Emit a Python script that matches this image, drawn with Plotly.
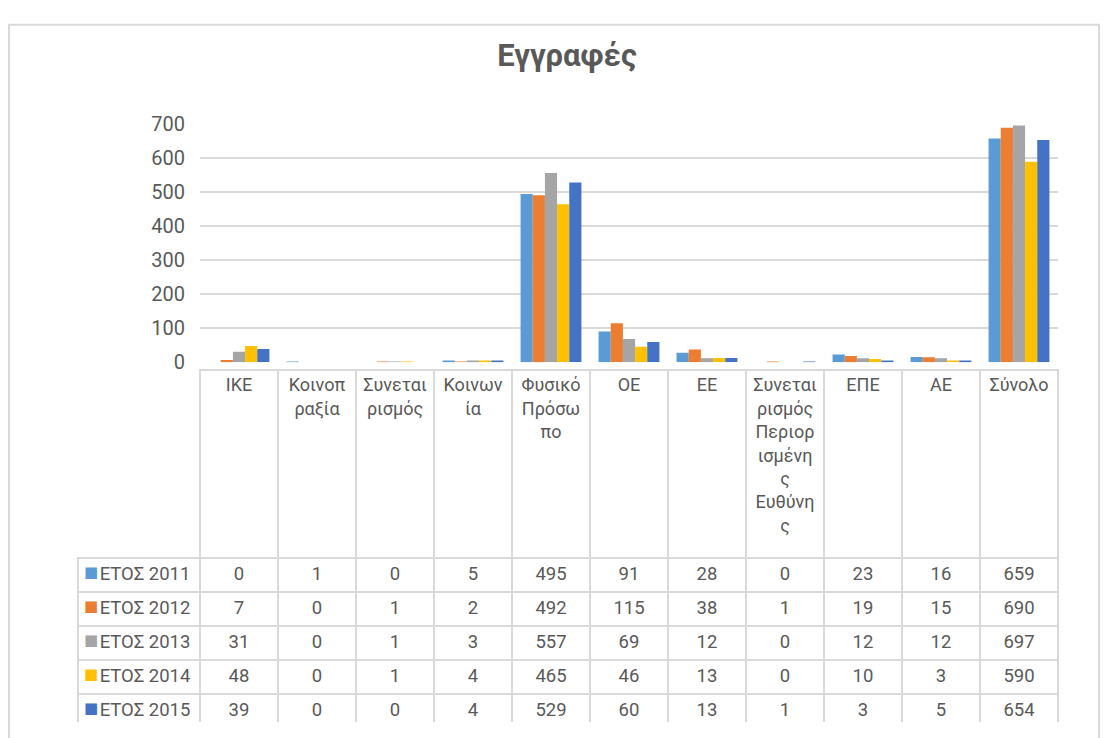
import plotly.graph_objects as go

# categories (full names) and the wrapped labels shown above the data table
categories = ["ΙΚΕ", "Κοινοπραξία", "Συνεταιρισμός", "Κοινωνία", "Φυσικό Πρόσωπο",
              "ΟΕ", "ΕΕ", "Συνεταιρισμός Περιορισμένης Ευθύνης", "ΕΠΕ", "ΑΕ", "Σύνολο"]
header_labels = ["ΙΚΕ", "Κοινοπ<br>ραξία", "Συνεται<br>ρισμός", "Κοινων<br>ία",
                 "Φυσικό<br>Πρόσω<br>πο", "ΟΕ", "ΕΕ",
                 "Συνεται<br>ρισμός<br>Περιορ<br>ισμένη<br>ς<br>Ευθύνη<br>ς",
                 "ΕΠΕ", "ΑΕ", "Σύνολο"]

series_names = ["ΕΤΟΣ 2011", "ΕΤΟΣ 2012", "ΕΤΟΣ 2013", "ΕΤΟΣ 2014", "ΕΤΟΣ 2015"]
y2011 = [0, 1, 0, 5, 495, 91, 28, 0, 23, 16, 659]
y2012 = [7, 0, 1, 2, 492, 115, 38, 1, 19, 15, 690]
y2013 = [31, 0, 1, 3, 557, 69, 12, 0, 12, 12, 697]
y2014 = [48, 0, 1, 4, 465, 46, 13, 0, 10, 3, 590]
y2015 = [39, 0, 0, 4, 529, 60, 13, 1, 3, 5, 654]
series_values = [y2011, y2012, y2013, y2014, y2015]
colors = ["#5B9BD5", "#ED7D31", "#A5A5A5", "#FFC000", "#4472C4"]

# page body has an 8px margin, so the figure is a bit smaller than the window
W, H = 1100, 730
OFF = 8
FONT = "Roboto"
TXT = "#595959"
GRID = "#d9d9d9"
CLEAR = "rgba(0,0,0,0)"
NB = "\u00a0"  # non-breaking spaces keep the table from wrapping cells


def fx(px):
    return (px - OFF) / W


def fy(py):
    return 1 - (py - OFF) / H


fig = go.Figure()

for name, vals, col in zip(series_names, series_values, colors):
    fig.add_trace(go.Bar(x=categories, y=vals, name=name, marker_color=col,
                         marker_line_width=0, showlegend=False))

# data table under the chart
table_x = [fx(78), fx(1058)]
table_y = [fy(734), fy(370)]
first_col = [NB * 3 + n.replace(" ", NB) for n in series_names]
cols = [first_col] + [[s[i] for s in series_values] for i in range(len(categories))]

fig.add_trace(go.Table(
    domain=dict(x=table_x, y=table_y),
    columnwidth=[122] + [78] * len(categories),
    header=dict(values=[""] * (len(categories) + 1),
                fill_color=CLEAR,
                line=dict(color=[CLEAR] + [GRID] * len(categories), width=2),
                height=188),
    cells=dict(values=cols,
               fill_color="white",
               line=dict(color=GRID, width=2),
               align=["left"] + ["center"] * len(categories),
               height=34,
               font=dict(family=FONT, size=18.5, color=TXT)),
))

# coloured legend keys in the first table column
fig.add_trace(go.Table(
    domain=dict(x=[fx(76), fx(200)], y=table_y),
    columnwidth=[122],
    header=dict(values=[""], fill_color=CLEAR, line=dict(color=CLEAR), height=188),
    cells=dict(values=[["■"] * len(series_names)],
               fill_color=CLEAR,
               line=dict(color=CLEAR),
               align="left",
               height=34,
               font=dict(family="DejaVu Sans", size=15, color=[colors])),
))

fig.update_layout(
    width=W, height=H,
    margin=dict(l=0, r=0, t=0, b=0),
    paper_bgcolor="white", plot_bgcolor="white",
    barmode="group", bargap=0.22, bargroupgap=0,
    font=dict(family=FONT, color=TXT),
    title=dict(text="<b>Εγγραφές</b>", x=fx(567), xanchor="center",
               y=fy(55), yanchor="middle",
               font=dict(family=FONT, size=31, color=TXT)),
    xaxis=dict(domain=[fx(200), fx(1058)], tickmode="array",
               tickvals=categories, ticktext=header_labels,
               tickfont=dict(family=FONT, size=18, color=TXT),
               ticks="", ticklabelstandoff=10, showgrid=False,
               zeroline=False, showline=False),
    yaxis=dict(domain=[fy(362), fy(116)], range=[0, 700], dtick=100,
               showgrid=True, gridcolor=GRID, gridwidth=2, zeroline=False,
               showline=False, ticks="", ticklabelstandoff=14,
               tickfont=dict(family=FONT, size=20, color=TXT)),
    shapes=[dict(type="rect", xref="paper", yref="paper",
                 x0=fx(9), x1=fx(1099), y0=-0.02, y1=fy(13),
                 line=dict(color=GRID, width=2), fillcolor=CLEAR,
                 layer="below")],
)

fig.write_html("out.html")
